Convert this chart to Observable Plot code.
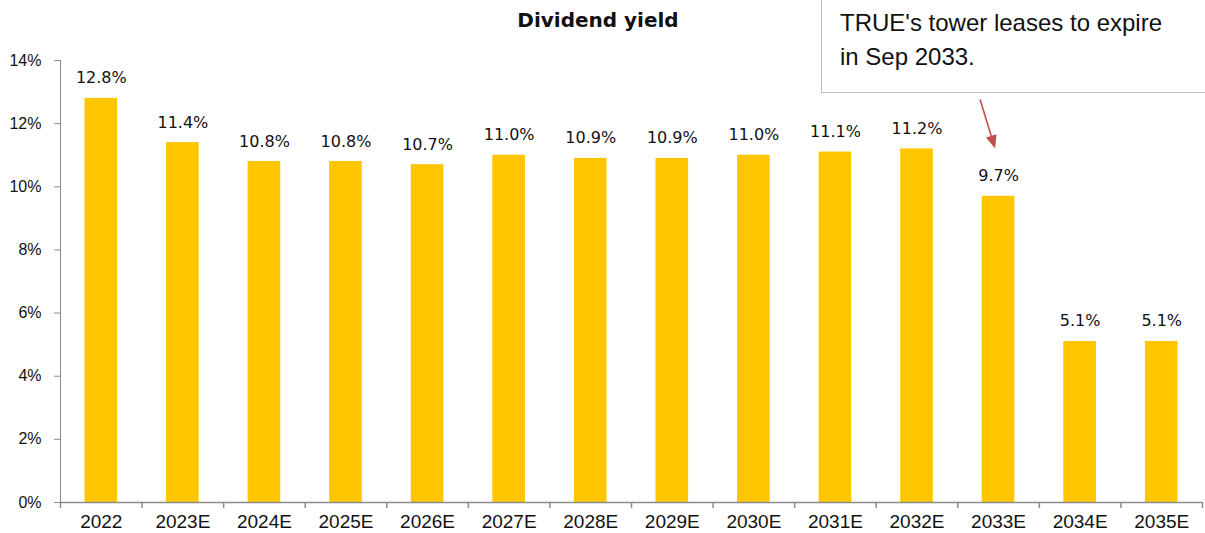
<!DOCTYPE html>
<html>
<head>
<meta charset="utf-8">
<script src="https://cdn.jsdelivr.net/npm/d3@7"></script>
<script src="https://cdn.jsdelivr.net/npm/@observablehq/plot@0.6"></script>
<style>
  html, body { margin: 0; padding: 0; background: #fff; }
  #wrap { position: relative; width: 1205px; height: 533px; overflow: hidden; }
  #wrap svg { position: absolute; left: 0; top: 0; }
  #chart svg text { fill: #111; }
  #title { position: absolute; left: 0; width: 1196px; top: 8px; text-align: center;
    font: bold 20px "DejaVu Sans", sans-serif; color: #111; }
  #note { position: absolute; left: 821px; top: -2px; width: 420px; height: 95px;
    border: 1.5px solid #bdbdbd; box-sizing: border-box; background: #fff;
    font: 24px "Liberation Sans", sans-serif; color: #111; line-height: 34px;
    padding: 7px 0 0 18px; }
</style>
</head>
<body>
<div id="wrap">
  <div id="chart"></div>
  <div id="title">Dividend yield</div>
  <div id="note">TRUE's tower leases to expire<br>in Sep 2033.</div>
</div>
<script>
const years = ["2022","2023E","2024E","2025E","2026E","2027E","2028E","2029E","2030E","2031E","2032E","2033E","2034E","2035E"];
const yields = [12.8, 11.4, 10.8, 10.8, 10.7, 11.0, 10.9, 10.9, 11.0, 11.1, 11.2, 9.7, 5.1, 5.1];
const yTicks = [0, 2, 4, 6, 8, 10, 12, 14];
const arrowTarget = "2033E";
const arrowFrom = 12.75;
const arrowTo = 11.2;

const data = years.map((y, i) => ({year: y, value: yields[i]}));
const W = 1205, H = 533, mL = 60, mR = 3, mT = 60, mB = 31;
const step = (W - mL - mR) / years.length;
const axisGray = "#8c8c8c";

const plot = Plot.plot({
  width: W, height: H,
  marginLeft: mL, marginRight: mR, marginTop: mT, marginBottom: mB,
  style: {fontFamily: "Liberation Sans, sans-serif", fontSize: "16px", color: axisGray,
    background: "transparent", overflow: "visible"},
  x: {domain: years, paddingInner: 0.6, paddingOuter: 0.3, round: false, label: null, axis: null},
  y: {domain: [0, 14], ticks: yTicks, tickFormat: d => d + "%", tickSize: 6, tickPadding: 13,
    line: true, label: null},
  marks: [
    Plot.barY(data, {x: "year", y: "value", fill: "#ffc600"}),
    Plot.text(data, {x: "year", y: "value", text: d => d.value.toFixed(1) + "%",
      lineAnchor: "bottom", dy: -15, fontSize: 16, fontFamily: "DejaVu Sans, sans-serif", fill: "#111"}),
    Plot.ruleY([0], {stroke: axisGray, strokeWidth: 1.5}),
    Plot.ruleX(years, {x: d => d, y1: 0, y2: -0.19, dx: -step / 2, stroke: axisGray, strokeWidth: 1.5}),
    Plot.ruleX([years[years.length - 1]], {x: d => d, y1: 0, y2: -0.19, dx: step / 2, stroke: axisGray, strokeWidth: 1.5}),
    Plot.text(years, {x: d => d, y: () => 0, dy: 19, text: d => d, fontSize: 19,
      fontFamily: "Liberation Sans, sans-serif", fill: "#111"})
  ]
});
document.getElementById("chart").appendChild(plot);

// annotation arrow, positioned through the plot's own scales
const xs = plot.scale("x"), ysc = plot.scale("y");
const bx = d3.scaleBand().domain(xs.domain).range(xs.range)
  .paddingInner(xs.paddingInner).paddingOuter(xs.paddingOuter).align(xs.align ?? 0.5);
const by = d3.scaleLinear().domain(ysc.domain).range(ysc.range);
const cx = bx(arrowTarget) + bx.bandwidth() / 2;
const x1 = cx - 18, y1 = by(arrowFrom), x2 = cx - 3, y2 = by(arrowTo);
const ang = Math.atan2(y2 - y1, x2 - x1);
const hl = 13, hw = 5.5;
const bxp = x2 - hl * Math.cos(ang), byp = y2 - hl * Math.sin(ang);
const svg = d3.select(plot);
svg.append("line").attr("x1", x1).attr("y1", y1).attr("x2", bxp).attr("y2", byp)
  .attr("stroke", "#c0504d").attr("stroke-width", 1.6);
svg.append("path")
  .attr("d", `M${x2},${y2}L${bxp + hw * Math.sin(ang)},${byp - hw * Math.cos(ang)}L${bxp - hw * Math.sin(ang)},${byp + hw * Math.cos(ang)}Z`)
  .attr("fill", "#c0504d");
</script>
</body>
</html>
